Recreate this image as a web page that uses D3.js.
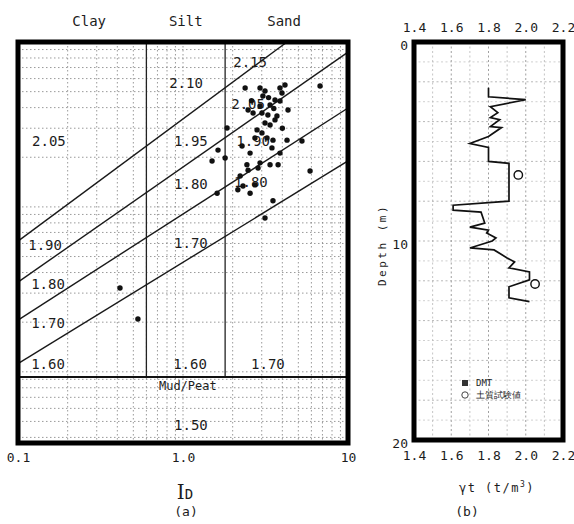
<!DOCTYPE html>
<html><head><meta charset="utf-8">
<script src="https://cdn.jsdelivr.net/npm/d3@7"></script>
<style>
html,body{margin:0;padding:0;background:#fff;}
svg{display:block;}
text{font-family:"DejaVu Sans Mono",monospace;fill:#1c1c1c;}
</style></head><body>
<svg id="chart" width="574" height="524"></svg>
<script>
// ---------- (a) DMT soil chart: material index I_D vs modulus E_D ----------
const zoneNames = ["Clay", "Silt", "Sand"];
const zoneNameID = [0.27, 1.04, 4.1];
const zoneBoundsID = [0.6, 1.8];          // Clay | Silt | Sand limits
const mudLimitED = 9.3;                   // Mud/Peat below this line
const idTicks = [0.1, 1, 10];
const idTickLabels = ["0.1", "1.0", "10"];

// unit-weight boundary lines, end points as [I_D, E_D]
const gammaLines = [
  [[0.1, 62.0], [4.27, 1000]],
  [[0.1, 35.0], [10, 869]],
  [[0.1, 20.6], [10, 398]],
  [[0.1, 11.2], [10, 190]]
];

// unit weight (t/m3) written in each zone
const gammaText = ["2.05","1.90","1.80","1.70","1.60",
                   "2.10","1.95","1.80","1.70","1.60",
                   "2.15","2.05","1.90","1.80","1.70","1.50"];
const gammaTextID = [0.154,0.146,0.152,0.152,0.152,
                     1.043,1.117,1.117,1.117,1.103,
                     2.55,2.48,2.66,2.58,3.27,1.117];
const gammaTextED = [251,58.7,34.1,19.8,11.15,
                     564,251,138,60.4,11.15,
                     756,421,251,142,11.15,4.76];

// DMT measurements
const dmtID = [6.77,2.38,2.93,3.14,3.87,4.15,3.98,3.61,3.87,3.37,2.93,2.66,3.01,3.27,3.71,4.33,2.48,
               3.14,3.61,3.37,1.85,2.81,3.01,2.73,3.23,3.51,4.27,5.26,1.63,2.28,2.55,3.87,3.46,
               1.50,1.80,2.44,2.93,3.37,3.77,2.85,5.89,2.48,2.22,2.31,2.55,2.15,2.73,1.61,3.51,
               3.14,0.415,0.533,3.05,3.30,2.60,3.55,4.00];
const dmtED = [541,526,526,505,526,548,491,445,439,415,409,371,371,361,356,387,387,
               323,337,314,301,293,281,262,262,254,254,251,221,234,212,212,228,
               190,198,180,185,180,180,172,165,167,154,134,121,127,136,121,109,
               85.7,32.2,20.9,470,460,440,395,300];

// ---------- (b) unit weight profile with depth ----------
const gammaTicks = [1.4, 1.6, 1.8, 2.0, 2.2];
const depthTicks = [0, 10, 20];
const profileDepth = [2.3,2.75,2.9,3.25,3.55,3.8,3.9,4.25,4.3,4.75,5.1,5.3,6.0,6.1,6.8,8.0,8.2,8.45,8.55,
                      9.1,9.3,9.45,9.6,9.85,10.0,10.35,10.45,10.85,11.05,11.35,11.55,11.95,12.3,12.85,13.05];
const profileGamma = [1.80,1.80,2.00,1.81,1.85,1.81,1.86,1.81,1.87,1.80,1.70,1.80,1.80,1.91,1.91,1.91,1.61,1.61,1.76,
                      1.78,1.70,1.80,1.79,1.84,1.82,1.70,1.83,1.90,1.94,1.91,2.02,2.02,1.91,1.91,2.02];
const labDepth = [6.68, 12.16];
const labGamma = [1.96, 2.05];
const legendItems = ["DMT", "土質試験値"];

const svg = d3.select("#chart");

// ===== panel (a) =====
const x = d3.scaleLog().domain([0.1, 10]).range([18, 348]);
const y = d3.scaleLog().domain([3.7, 1000]).range([443, 42]);
const A = svg.append("g");

// graph-paper grid
A.append("g").selectAll("line").data(x.ticks()).join("line")
  .attr("x1", d => x(d)).attr("x2", d => x(d)).attr("y1", 42).attr("y2", 443)
  .attr("stroke", "#808080").attr("stroke-width", 0.8).attr("stroke-dasharray", "1.5,2.5");
A.append("g").selectAll("line").data(y.ticks()).join("line")
  .attr("y1", d => y(d)).attr("y2", d => y(d)).attr("x1", 18).attr("x2", 348)
  .attr("stroke", "#808080").attr("stroke-width", 0.8).attr("stroke-dasharray", "1.5,2.5");

// zone boundaries
A.append("g").selectAll("line").data(zoneBoundsID).join("line")
  .attr("x1", d => x(d)).attr("x2", d => x(d))
  .attr("y1", y(1000)).attr("y2", y(mudLimitED))
  .attr("stroke", "#222").attr("stroke-width", 1.3);
A.append("line").attr("x1", 18).attr("x2", 348)
  .attr("y1", y(mudLimitED)).attr("y2", y(mudLimitED))
  .attr("stroke", "#111").attr("stroke-width", 1.8);

const gl = d3.line().x(d => x(d[0])).y(d => y(d[1]));
A.append("g").selectAll("path").data(gammaLines).join("path")
  .attr("d", gl).attr("fill", "none").attr("stroke", "#1a1a1a").attr("stroke-width", 1.4);

// zone labels
A.append("g").selectAll("text").data(gammaText).join("text")
  .attr("x", (d, i) => x(gammaTextID[i])).attr("y", (d, i) => y(gammaTextED[i]))
  .attr("text-anchor", "middle").attr("dominant-baseline", "central")
  .attr("font-size", 14).text(d => d);
A.append("text").attr("x", x(1.07)).attr("y", y(8.2))
  .attr("text-anchor", "middle").attr("dominant-baseline", "central")
  .attr("font-size", 12).text("Mud/Peat");

// data points
A.append("g").selectAll("circle").data(dmtID).join("circle")
  .attr("cx", d => x(d)).attr("cy", (d, i) => y(dmtED[i]))
  .attr("r", 2.7).attr("fill", "#111");

// frame
A.append("rect").attr("x", 18).attr("y", 42).attr("width", 330).attr("height", 401)
  .attr("fill", "none").attr("stroke", "#000").attr("stroke-width", 5);

// axis
const ax = A.append("g").attr("transform", "translate(0,443)")
  .call(d3.axisBottom(x).tickValues(idTicks).tickFormat((d, i) => idTickLabels[i])
        .tickSize(0).tickPadding(10));
ax.select(".domain").remove();
ax.selectAll("text").attr("font-size", 13).attr("font-family", "DejaVu Sans Mono");

A.append("g").selectAll("text").data(zoneNames).join("text")
  .attr("x", (d, i) => x(zoneNameID[i])).attr("y", 26)
  .attr("text-anchor", "middle").attr("font-size", 14).text(d => d);

const idLab = A.append("text").attr("x", 185).attr("y", 499).attr("text-anchor", "middle");
idLab.append("tspan").attr("font-size", 20).attr("font-family", "DejaVu Serif").text("I");
idLab.append("tspan").attr("font-size", 14).text("D");
A.append("text").attr("x", 186).attr("y", 516).attr("text-anchor", "middle")
  .attr("font-size", 13).text("(a)");

// ===== panel (b) =====
const gx = d3.scaleLinear().domain([1.4, 2.2]).range([414, 563]);
const gy = d3.scaleLinear().domain([0, 20]).range([42, 440]);
const B = svg.append("g");

B.append("g").selectAll("line").data(d3.range(1.5, 2.15, 0.1)).join("line")
  .attr("x1", d => gx(d)).attr("x2", d => gx(d)).attr("y1", 42).attr("y2", 440)
  .attr("stroke", (d, i) => i % 2 ? "#777" : "#aaa").attr("stroke-width", 0.7)
  .attr("stroke-dasharray", "2,2.5");
B.append("g").selectAll("line").data(d3.range(1, 20)).join("line")
  .attr("y1", d => gy(d)).attr("y2", d => gy(d)).attr("x1", 414).attr("x2", 563)
  .attr("stroke", (d, i) => i % 2 ? "#999" : "#bbb").attr("stroke-width", 0.7)
  .attr("stroke-dasharray", "2,2.5");

const pl = d3.line().x(d => gx(profileGamma[d])).y(d => gy(profileDepth[d]));
B.append("path").attr("d", pl(d3.range(profileDepth.length)))
  .attr("fill", "none").attr("stroke", "#111").attr("stroke-width", 1.7)
  .attr("stroke-linejoin", "miter");

B.append("g").selectAll("circle").data(labDepth).join("circle")
  .attr("cx", (d, i) => gx(labGamma[i])).attr("cy", d => gy(d))
  .attr("r", 4.2).attr("fill", "#fff").attr("stroke", "#111").attr("stroke-width", 1.4);

// legend
const lg = B.append("g").attr("transform", "translate(465,383)");
lg.append("rect").attr("x", -3).attr("y", -3).attr("width", 6).attr("height", 6).attr("fill", "#333");
lg.append("circle").attr("cx", 0).attr("cy", 12).attr("r", 3.2).attr("fill", "#fff")
  .attr("stroke", "#444").attr("stroke-width", 1);
lg.selectAll("text").data(legendItems).join("text")
  .attr("x", 11).attr("y", (d, i) => i * 12).attr("dominant-baseline", "central")
  .attr("font-size", 9).attr("font-family", "Noto Sans CJK JP").attr("fill", "#555").text(d => d);

B.append("rect").attr("x", 414).attr("y", 42).attr("width", 149).attr("height", 398)
  .attr("fill", "none").attr("stroke", "#000").attr("stroke-width", 5);

const bt = B.append("g").attr("transform", "translate(0,42)")
  .call(d3.axisTop(gx).tickValues(gammaTicks).tickFormat(d3.format(".1f")).tickSize(0).tickPadding(10));
const bb = B.append("g").attr("transform", "translate(0,440)")
  .call(d3.axisBottom(gx).tickValues(gammaTicks).tickFormat(d3.format(".1f")).tickSize(0).tickPadding(11));
const bl = B.append("g").attr("transform", "translate(412,3)")
  .call(d3.axisLeft(gy).tickValues(depthTicks).tickSize(0).tickPadding(4));
[bt, bb, bl].forEach(g => {
  g.select(".domain").remove();
  g.selectAll("text").attr("font-size", 13).attr("font-family", "DejaVu Sans Mono");
});

B.append("text").attr("transform", "translate(386,245) rotate(-90)")
  .attr("text-anchor", "middle").attr("font-size", 11).attr("letter-spacing", 2.5)
  .text("Depth (m)");
const gLab = B.append("text").attr("x", 497).attr("y", 492).attr("text-anchor", "middle")
  .attr("font-size", 12).attr("letter-spacing", 1.5);
gLab.append("tspan").text("γt (t/m");
gLab.append("tspan").attr("font-size", 8).attr("dy", -5).text("3");
gLab.append("tspan").attr("dy", 5).text(")");
B.append("text").attr("x", 467).attr("y", 516).attr("text-anchor", "middle")
  .attr("font-size", 13).text("(b)");
</script>
</body></html>
